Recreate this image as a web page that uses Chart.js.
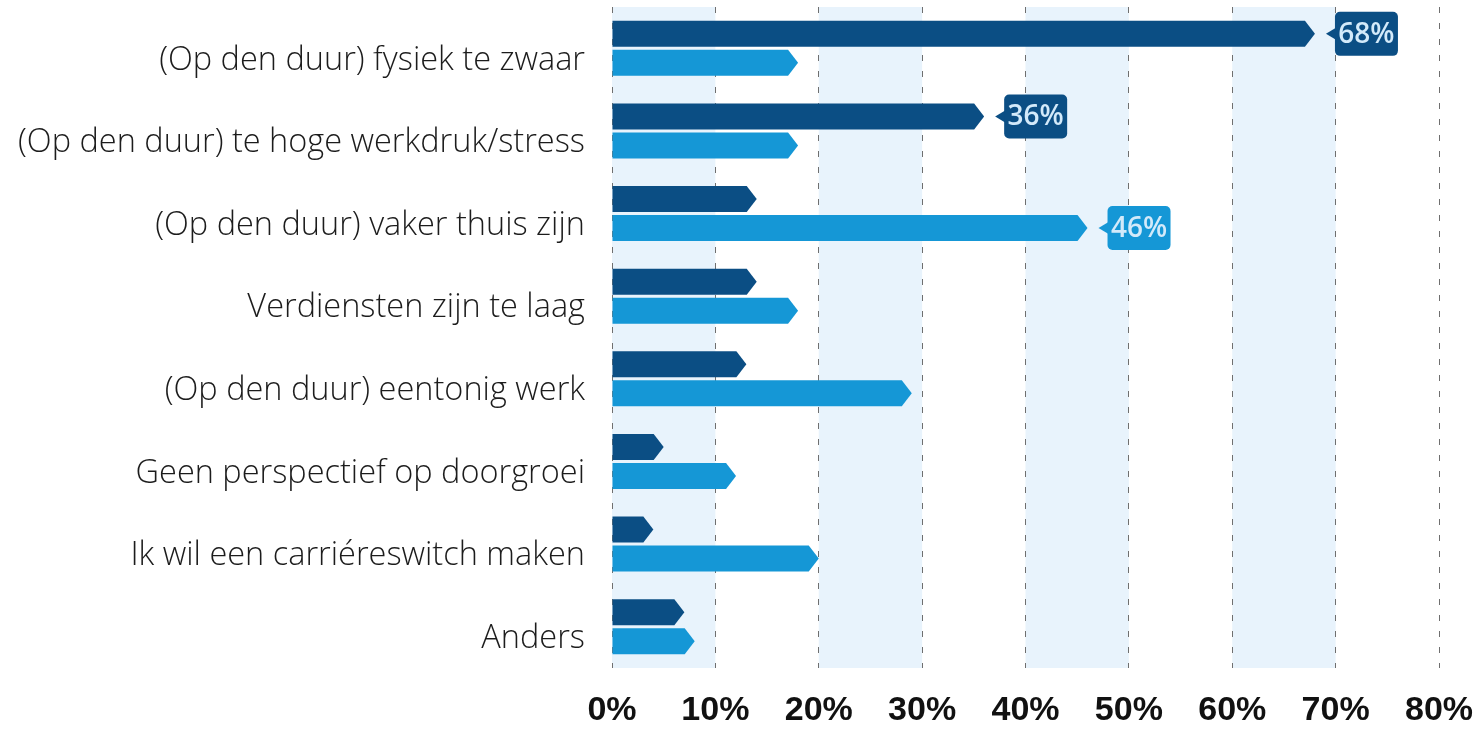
<!DOCTYPE html>
<html>
<head>
<meta charset="utf-8">
<script src="https://cdn.jsdelivr.net/npm/chart.js@4.4.1/dist/chart.umd.min.js"></script>
<style>
  html, body { margin: 0; padding: 0; background: #fff; }
  #wrap { width: 1478px; height: 729px; position: relative; }
</style>
</head>
<body>
<div id="wrap"><canvas id="chart"></canvas></div>
<script>
"use strict";
const categories = [
    "(Op den duur) fysiek te zwaar",
    "(Op den duur) te hoge werkdruk/stress",
    "(Op den duur) vaker thuis zijn",
    "Verdiensten zijn te laag",
    "(Op den duur) eentonig werk",
    "Geen perspectief op doorgroei",
    "Ik wil een carriéreswitch maken",
    "Anders"
];
const valuesDark = [68, 36, 14, 14, 13, 5, 4, 7];
const valuesLight = [18, 18, 46, 18, 29, 12, 20, 8];
// which bars get a value badge
const badgeDark = [true, true, false, false, false, false, false, false];
const badgeLight = [false, false, true, false, false, false, false, false];
const xTicks = [0, 10, 20, 30, 40, 50, 60, 70, 80];

const darkBlue = "#0b4e84";
const lightBlue = "#1597d6";
const bandColor = "#e8f3fc";

// light blue bands between every other pair of gridlines
const bandsPlugin = {
    id: "bands",
    beforeDraw(chart) {
        const { ctx, chartArea, scales } = chart;
        ctx.save();
        ctx.fillStyle = bandColor;
        for (let i = 0; i < xTicks.length - 1; i += 2) {
            const x0 = scales.x.getPixelForValue(xTicks[i]);
            const x1 = scales.x.getPixelForValue(xTicks[i + 1]);
            ctx.fillRect(x0, chartArea.top, x1 - x0, chartArea.bottom - chartArea.top);
        }
        ctx.restore();
    }
};

// bars with a pointed end, plus the value badges
const arrowBarsPlugin = {
    id: "arrowBars",
    afterDatasetsDraw(chart) {
        const ctx = chart.ctx;
        chart.data.datasets.forEach((ds, di) => {
            const meta = chart.getDatasetMeta(di);
            meta.data.forEach((el, i) => {
                const p = el.getProps(["x", "y", "base", "height"], true);
                const top = p.y - p.height / 2;
                const bottom = p.y + p.height / 2;
                const tip = Math.min(10, p.x - p.base);
                ctx.save();
                ctx.fillStyle = ds.fillColor;
                ctx.beginPath();
                ctx.moveTo(p.base, top);
                ctx.lineTo(p.x - tip, top);
                ctx.lineTo(p.x, p.y);
                ctx.lineTo(p.x - tip, bottom);
                ctx.lineTo(p.base, bottom);
                ctx.closePath();
                ctx.fill();
                if (ds.badges[i]) {
                    const px = p.x + 11;
                    const bx = px + 9;
                    const bw = 63, bh = 44;
                    ctx.beginPath();
                    ctx.moveTo(px, p.y);
                    ctx.lineTo(bx + 1, p.y - 6);
                    ctx.lineTo(bx + 1, p.y + 6);
                    ctx.closePath();
                    ctx.fill();
                    ctx.beginPath();
                    ctx.roundRect(bx, p.y - bh / 2, bw, bh, 5);
                    ctx.fill();
                    ctx.fillStyle = "#d3eafa";
                    ctx.font = "600 28px 'Open Sans', sans-serif";
                    ctx.textAlign = "center";
                    ctx.textBaseline = "middle";
                    ctx.fillText(ds.data[i] + "%", bx + bw / 2, p.y + 1);
                }
                ctx.restore();
            });
        });
    }
};

const chart = new Chart(document.getElementById("chart").getContext("2d"), {
    type: "bar",
    data: {
        labels: categories,
        datasets: [{
            label: "Reden 1",
            data: valuesDark,
            backgroundColor: "rgba(0,0,0,0)",
            fillColor: darkBlue,
            badges: badgeDark
        }, {
            label: "Reden 2",
            data: valuesLight,
            backgroundColor: "rgba(0,0,0,0)",
            fillColor: lightBlue,
            badges: badgeLight
        }]
    },
    plugins: [bandsPlugin, arrowBarsPlugin],
    options: {
        indexAxis: "y",
        responsive: true,
        maintainAspectRatio: false,
        animation: false,
        categoryPercentage: 0.7,
        barPercentage: 0.9,
        layout: { padding: { top: 7, right: 39, bottom: 0, left: 0 } },
        plugins: {
            legend: { display: false },
            tooltip: { enabled: false }
        },
        scales: {
            x: {
                min: 0,
                max: 80,
                afterBuildTicks: (axis) => axis.ticks = xTicks.map(v => ({ value: v })),
                afterFit: (scale) => {
                    scale.height = 61;
                    scale.paddingLeft = 0;
                    scale.paddingRight = 0;
                },
                ticks: {
                    callback: (v) => v + "%",
                    color: "#111",
                    padding: 22,
                    font: { family: "'Liberation Sans', sans-serif", size: 34, weight: "bold" }
                },
                grid: { color: "#6f6f6f", lineWidth: 1, drawTicks: false },
                border: { display: false, dash: [6, 10] }
            },
            y: {
                afterFit: (scale) => {
                    scale.width = 612;
                    scale.paddingTop = 0;
                    scale.paddingBottom = 0;
                },
                grid: { display: false, drawTicks: false },
                border: { display: false },
                ticks: {
                    color: "#1c1c1c",
                    padding: 27,
                    labelOffset: 12,
                    font: { family: "'Open Sans', sans-serif", size: 32.5, weight: 300 }
                }
            }
        }
    }
});
</script>
</body>
</html>
